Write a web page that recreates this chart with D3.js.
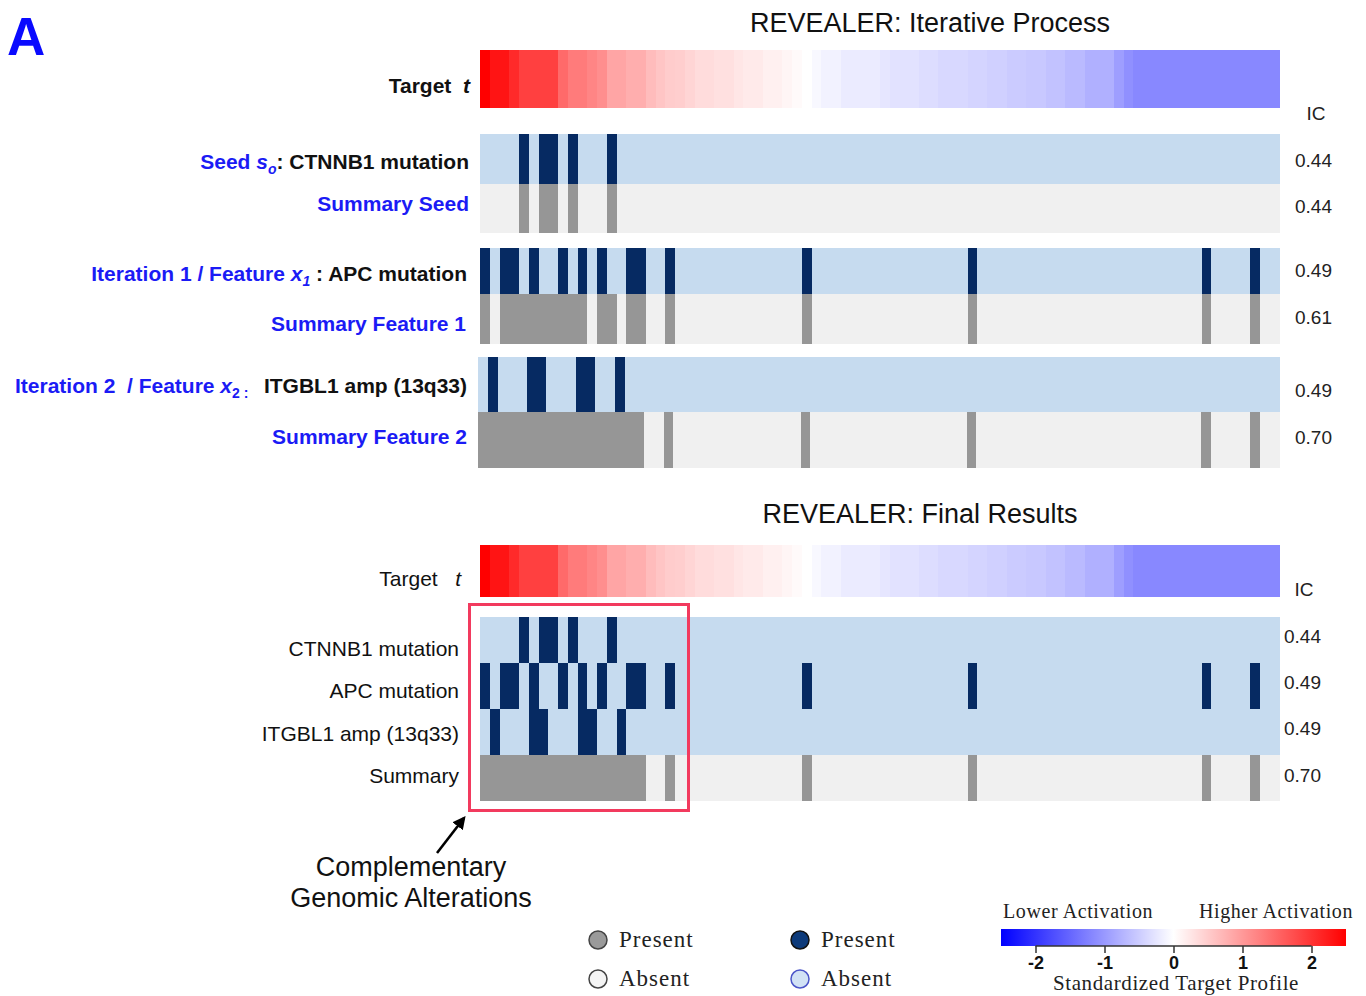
<!DOCTYPE html>
<html>
<head>
<meta charset="utf-8">
<script src="https://cdn.jsdelivr.net/npm/d3@7"></script>
<style>
  html, body { margin: 0; padding: 0; background: #ffffff; }
  svg { display: block; }
  text { white-space: pre; }
  rect.cell { shape-rendering: crispEdges; }
</style>
</head>
<body>
<svg id="chart" width="1366" height="996"></svg>
<script>
// ---- data -------------------------------------------------------------
const sampleCount = 82;

// standardized target profile, samples sorted from highest to lowest
const targetValues = [
  2.50, 2.30, 2.30, 2.09, 1.87, 1.87, 1.87, 1.87, 1.46, 1.29,
  1.29, 1.20, 1.11, 0.88, 0.88, 0.79, 0.79, 0.66, 0.57, 0.50,
  0.48, 0.41, 0.34, 0.34, 0.30, 0.30, 0.25, 0.21, 0.21, 0.15,
  0.15, 0.10, 0.05, 0.00, -0.07, -0.13, -0.13, -0.20, -0.20, -0.20,
  -0.20, -0.25, -0.28, -0.28, -0.28, -0.33, -0.33, -0.38, -0.38, -0.38,
  -0.42, -0.42, -0.46, -0.46, -0.51, -0.51, -0.54, -0.54, -0.60, -0.60,
  -0.68, -0.68, -0.77, -0.77, -0.77, -0.95, -1.09, -1.17, -1.17, -1.17,
  -1.17, -1.17, -1.17, -1.17, -1.17, -1.17, -1.17, -1.17, -1.17, -1.17,
  -1.17, -1.17
];

// indices of samples in which each alteration is present
const ctnnb1Mutation = [4, 6, 7, 9, 13];
const apcMutation = [0, 2, 3, 5, 8, 10, 12, 15, 16, 19, 33, 50, 74, 79];
const itgbl1Amp = [1, 5, 6, 10, 11, 14];
const summarySeed = [4, 6, 7, 9, 13];
const summaryFeature1 = [0, 2, 3, 4, 5, 6, 7, 8, 9, 10, 12, 13, 15, 16, 19, 33, 50, 74, 79];
const summaryFeature2 = [0, 1, 2, 3, 4, 5, 6, 7, 8, 9, 10, 11, 12, 13, 14, 15, 16, 19, 33, 50, 74, 79];

// information coefficients
const icIterative = ["0.44", "0.44", "0.49", "0.61", "0.49", "0.70"];
const icFinal = ["0.44", "0.49", "0.49", "0.70"];

const finalLabels = ["CTNNB1 mutation", "APC mutation", "ITGBL1 amp (13q33)", "Summary"];
const colorbarTicks = [-2, -1, 0, 1, 2];

// ---- setup ------------------------------------------------------------
const svg = d3.select("#chart");
const SANS = "'Liberation Sans', Arial, Helvetica, sans-serif";
const SERIF = "'Liberation Serif', 'Times New Roman', serif";
const BLUE_TXT = "#1b1bf5";
const NAVY = "#062a62";
const LIGHTBLUE = "#c6dbef";
const GREY = "#969696";
const LIGHTGREY = "#f0f0f0";

svg.style("font-family", SANS);

const samples = d3.range(sampleCount);
const x = d3.scaleBand().domain(samples).range([480, 1279.5]).padding(0);
const xShift = d3.scaleBand().domain(samples).range([478, 1279.5]).padding(0);

const color = d3.scaleLinear()
  .domain([-2.5, 0, 2.5])
  .range(["#0000ff", "#ffffff", "#ff0000"])
  .clamp(true);

function targetStrip(y0, h) {
  svg.append("g").selectAll("rect")
    .data(targetValues)
    .join("rect")
    .attr("class", "cell")
    .attr("x", (d, i) => x(i))
    .attr("y", y0)
    .attr("width", x.bandwidth())
    .attr("height", h)
    .attr("fill", d => color(d));
}

function featureRow(scale, present, y0, h, bg, fg) {
  const g = svg.append("g");
  g.append("rect")
    .attr("class", "cell")
    .attr("x", scale.range()[0]).attr("y", y0)
    .attr("width", scale.range()[1] - scale.range()[0]).attr("height", h)
    .attr("fill", bg);
  g.selectAll("rect.on")
    .data(present)
    .join("rect")
    .attr("class", "cell on")
    .attr("x", d => scale(d))
    .attr("y", y0)
    .attr("width", scale.bandwidth())
    .attr("height", h)
    .attr("fill", fg);
}

// ---- panel letter -----------------------------------------------------
svg.append("text")
  .attr("x", 7).attr("y", 55)
  .attr("font-size", 53).attr("font-weight", "bold")
  .attr("fill", "#0a0aff")
  .text("A");

// ---- iterative process ------------------------------------------------
svg.append("text")
  .attr("x", 930).attr("y", 32)
  .attr("text-anchor", "middle")
  .attr("font-size", 27)
  .attr("fill", "#111")
  .text("REVEALER: Iterative Process");

targetStrip(50, 58);

const tLab = svg.append("text")
  .attr("x", 470).attr("y", 93)
  .attr("text-anchor", "end")
  .attr("font-size", 21).attr("font-weight", "bold").attr("fill", "#111");
tLab.append("tspan").text("Target  ");
tLab.append("tspan").attr("font-style", "italic").text("t");

svg.append("text")
  .attr("x", 1316).attr("y", 120)
  .attr("text-anchor", "middle")
  .attr("font-size", 19).attr("fill", "#222")
  .text("IC");

featureRow(x, ctnnb1Mutation, 133.5, 50.5, LIGHTBLUE, NAVY);
featureRow(x, summarySeed, 184, 49, LIGHTGREY, GREY);
featureRow(x, apcMutation, 248, 45.5, LIGHTBLUE, NAVY);
featureRow(x, summaryFeature1, 293.5, 50, LIGHTGREY, GREY);
featureRow(xShift, itgbl1Amp, 356.5, 55, LIGHTBLUE, NAVY);
featureRow(xShift, summaryFeature2, 411.5, 56, LIGHTGREY, GREY);

// row labels
function richLabel(xEnd, y, parts) {
  const t = svg.append("text")
    .attr("x", xEnd).attr("y", y)
    .attr("text-anchor", "end")
    .attr("font-size", 21).attr("font-weight", "bold");
  parts.forEach(p => {
    const s = t.append("tspan").attr("fill", p.c).text(p.t);
    if (p.i) s.attr("font-style", "italic");
    if (p.sub) s.attr("font-size", 14).attr("dy", 5);
    if (p.up) s.attr("dy", -5);
  });
  return t;
}

richLabel(469, 169, [
  { t: "Seed ", c: BLUE_TXT },
  { t: "s", c: BLUE_TXT, i: true },
  { t: "o", c: BLUE_TXT, i: true, sub: true },
  { t: ": CTNNB1 mutation", c: "#111", up: true }
]);
richLabel(469, 211, [{ t: "Summary Seed", c: BLUE_TXT }]);
richLabel(467, 281, [
  { t: "Iteration 1 / Feature ", c: BLUE_TXT },
  { t: "x", c: BLUE_TXT, i: true },
  { t: "1", c: BLUE_TXT, i: true, sub: true },
  { t: " : APC mutation", c: "#111", up: true }
]);
richLabel(466, 331, [{ t: "Summary Feature 1", c: BLUE_TXT }]);
richLabel(467, 393, [
  { t: "Iteration 2  / Feature ", c: BLUE_TXT },
  { t: "x", c: BLUE_TXT, i: true },
  { t: "2 : ", c: BLUE_TXT, sub: true },
  { t: "  ITGBL1 amp (13q33)", c: "#111", up: true }
]);
richLabel(467, 444, [{ t: "Summary Feature 2", c: BLUE_TXT }]);

// IC values
const icY = [167, 213, 277, 324, 397, 444];
svg.append("g").selectAll("text")
  .data(icIterative)
  .join("text")
  .attr("x", 1295).attr("y", (d, i) => icY[i])
  .attr("font-size", 19).attr("fill", "#222")
  .text(d => d);

// ---- final results ----------------------------------------------------
svg.append("text")
  .attr("x", 920).attr("y", 523)
  .attr("text-anchor", "middle")
  .attr("font-size", 27)
  .attr("fill", "#111")
  .text("REVEALER: Final Results");

targetStrip(545, 52);

const tLab2 = svg.append("text")
  .attr("x", 461).attr("y", 586)
  .attr("text-anchor", "end")
  .attr("font-size", 21).attr("fill", "#111");
tLab2.append("tspan").text("Target   ");
tLab2.append("tspan").attr("font-style", "italic").text("t");

svg.append("text")
  .attr("x", 1304).attr("y", 596)
  .attr("text-anchor", "middle")
  .attr("font-size", 19).attr("fill", "#222")
  .text("IC");

const finalRows = [ctnnb1Mutation, apcMutation, itgbl1Amp, summaryFeature2];
const rowY = d3.scaleBand().domain(d3.range(4)).range([617, 801]);
finalRows.forEach((rows, k) => {
  const last = k === 3;
  featureRow(x, rows, rowY(k), rowY.bandwidth(), last ? LIGHTGREY : LIGHTBLUE, last ? GREY : NAVY);
});

// row labels sit on a slightly tighter spacing than the rows themselves
const labelY = d3.scalePoint().domain(d3.range(4)).range([656, 783]);
svg.append("g").selectAll("text")
  .data(finalLabels)
  .join("text")
  .attr("x", 459)
  .attr("y", (d, i) => labelY(i))
  .attr("text-anchor", "end")
  .attr("font-size", 21).attr("fill", "#111")
  .text(d => d);

const icFinalY = [643, 689, 735, 782];
svg.append("g").selectAll("text")
  .data(icFinal)
  .join("text")
  .attr("x", 1284).attr("y", (d, i) => icFinalY[i])
  .attr("font-size", 19).attr("fill", "#222")
  .text(d => d);

// highlight box around complementary alterations
svg.append("rect")
  .attr("x", 469.5).attr("y", 604.5)
  .attr("width", 219).attr("height", 206)
  .attr("fill", "none")
  .attr("stroke", "#f23a5e")
  .attr("stroke-width", 3);

// arrow and annotation
svg.append("defs").append("marker")
  .attr("id", "arrowhead")
  .attr("viewBox", "0 0 10 10")
  .attr("refX", 8).attr("refY", 5)
  .attr("markerWidth", 5).attr("markerHeight", 5)
  .attr("orient", "auto")
  .append("path")
  .attr("d", "M0,0 L10,5 L0,10 Z")
  .attr("fill", "#000");

svg.append("line")
  .attr("x1", 437).attr("y1", 853)
  .attr("x2", 464).attr("y2", 818)
  .attr("stroke", "#000").attr("stroke-width", 2.6)
  .attr("marker-end", "url(#arrowhead)");

svg.append("text")
  .attr("x", 411).attr("y", 876)
  .attr("text-anchor", "middle").attr("font-size", 27).attr("fill", "#111")
  .text("Complementary");
svg.append("text")
  .attr("x", 411).attr("y", 907)
  .attr("text-anchor", "middle").attr("font-size", 27).attr("fill", "#111")
  .text("Genomic Alterations");

// ---- legends ----------------------------------------------------------
const legendItems = [
  { cx: 598, cy: 940, fill: "#9a9a9a", stroke: "#444", label: "Present" },
  { cx: 598, cy: 979, fill: "#f4f4f4", stroke: "#444", label: "Absent" },
  { cx: 800, cy: 940, fill: "#0d3a7a", stroke: "#111", label: "Present" },
  { cx: 800, cy: 979, fill: "#d2e2f5", stroke: "#4b55c8", label: "Absent" }
];
const lg = svg.append("g").selectAll("g")
  .data(legendItems)
  .join("g");
lg.append("circle")
  .attr("cx", d => d.cx).attr("cy", d => d.cy).attr("r", 9)
  .attr("fill", d => d.fill).attr("stroke", d => d.stroke).attr("stroke-width", 1.5);
lg.append("text")
  .attr("x", d => d.cx + 21).attr("y", d => d.cy + 7)
  .style("font-family", SERIF)
  .style("letter-spacing", "1px")
  .attr("font-size", 23).attr("fill", "#222")
  .text(d => d.label);

// colour bar
const cb = d3.scaleLinear().domain([-2.5, 2.5]).range([1001, 1346]);
const grad = svg.select("defs").append("linearGradient")
  .attr("id", "cbGrad").attr("x1", "0%").attr("x2", "100%");
d3.range(0, 1.0001, 0.05).forEach(f => {
  grad.append("stop")
    .attr("offset", (f * 100) + "%")
    .attr("stop-color", color(-2.5 + 5 * f));
});
svg.append("rect")
  .attr("x", 1001).attr("y", 929)
  .attr("width", 345).attr("height", 17)
  .attr("fill", "url(#cbGrad)");

const axis = d3.axisBottom(cb).tickValues(colorbarTicks).tickSize(7).tickFormat(d3.format("d"));
const ax = svg.append("g").attr("transform", "translate(0,946)").call(axis);
ax.select(".domain").remove();
ax.append("line")
  .attr("x1", cb(-2)).attr("x2", cb(2))
  .attr("stroke", "#333").attr("stroke-width", 1.5);
ax.selectAll(".tick line").attr("stroke", "#333").attr("stroke-width", 1.5);
ax.selectAll(".tick text")
  .style("font-family", "'Liberation Sans Narrow', 'Liberation Sans', sans-serif")
  .attr("font-weight", "bold")
  .attr("font-size", 18)
  .attr("fill", "#111")
  .attr("y", 10)
  .attr("dy", "0.71em")
  .text(d => d < 0 ? "-" + Math.abs(d) : d);

svg.append("text")
  .attr("x", 1003).attr("y", 918)
  .style("font-family", SERIF).style("letter-spacing", "0.6px")
  .attr("font-size", 20).attr("fill", "#222")
  .text("Lower Activation");
svg.append("text")
  .attr("x", 1353).attr("y", 918)
  .attr("text-anchor", "end")
  .style("font-family", SERIF).style("letter-spacing", "0.6px")
  .attr("font-size", 20).attr("fill", "#222")
  .text("Higher Activation");
svg.append("text")
  .attr("x", 1176).attr("y", 990)
  .attr("text-anchor", "middle")
  .style("font-family", SERIF).style("letter-spacing", "0.6px")
  .attr("font-size", 21).attr("fill", "#222")
  .text("Standardized Target Profile");
</script>
</body>
</html>
